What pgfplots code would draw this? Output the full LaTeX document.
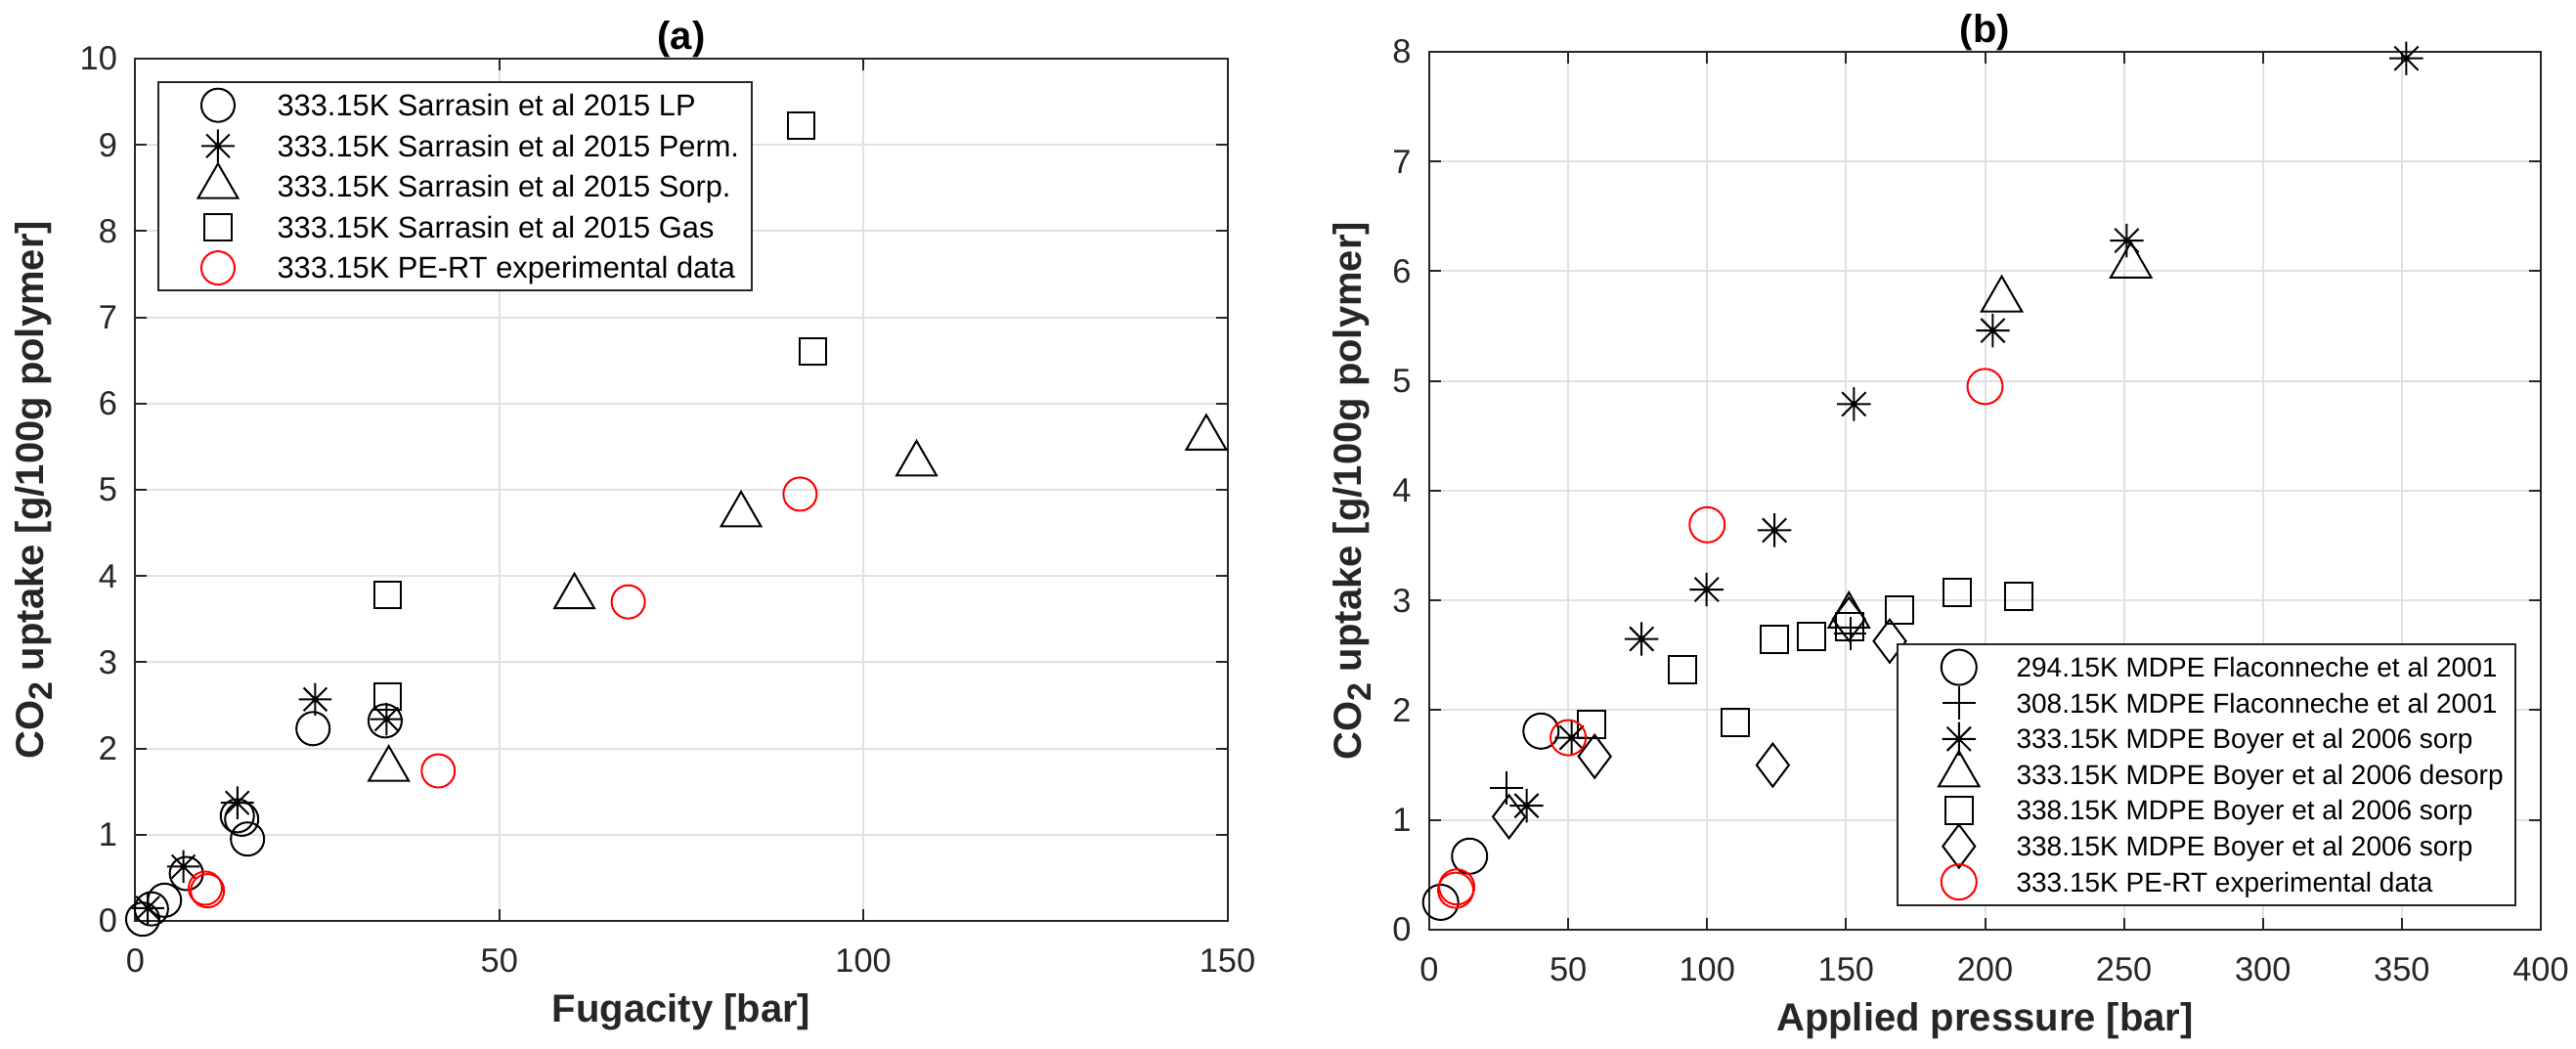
\documentclass[border=0pt]{standalone}
\usepackage{pgfplots}
\pgfplotsset{compat=1.18}
\usepackage{fontspec}
\setmainfont{Liberation Sans}
\definecolor{axc}{RGB}{38,38,38}
\definecolor{gridc}{RGB}{225,225,225}
\pgfdeclareplotmark{mstar}{%
  \pgfpathmoveto{\pgfqpoint{-\pgfplotmarksize}{0pt}}%
  \pgfpathlineto{\pgfqpoint{\pgfplotmarksize}{0pt}}%
  \pgfpathmoveto{\pgfqpoint{0pt}{-\pgfplotmarksize}}%
  \pgfpathlineto{\pgfqpoint{0pt}{\pgfplotmarksize}}%
  \pgfpathmoveto{\pgfqpoint{-.7071\pgfplotmarksize}{-.7071\pgfplotmarksize}}%
  \pgfpathlineto{\pgfqpoint{.7071\pgfplotmarksize}{.7071\pgfplotmarksize}}%
  \pgfpathmoveto{\pgfqpoint{-.7071\pgfplotmarksize}{.7071\pgfplotmarksize}}%
  \pgfpathlineto{\pgfqpoint{.7071\pgfplotmarksize}{-.7071\pgfplotmarksize}}%
  \pgfusepathqstroke
  \pgfpathcircle{\pgfpointorigin}{0.6pt}%
  \pgfusepathqfill
}
\newcommand{\COtwo}{CO\raisebox{-0.45ex}{\fontsize{8.5}{10}\selectfont 2}}
\pgfplotsset{
  common/.style={
    scale only axis, clip=false,
    axis line style={axc, line width=0.5pt},
    tick style={axc, line width=0.5pt},
    major tick length=3pt,
    tick align=inside,
    grid=major, major grid style={gridc, line width=0.5pt},
    tick label style={font=\fontsize{8.6}{10}\selectfont, text=axc},
    /pgf/number format/assume math mode=true,
    xticklabel style={yshift=-3.6pt},
    yticklabel style={xshift=-1.1pt},
    label style={font=\bfseries\fontsize{10}{12}\selectfont, text=axc},
    every axis title shift=0pt,
    title style={font=\bfseries\fontsize{10}{12}\selectfont, text=black, at={(axis description cs:0.5,1)}, anchor=center, yshift=5pt},
    xlabel style={at={(axis description cs:0.5,0)}, anchor=center, yshift=-23.4pt},
    legend cell align=left,
    every axis plot/.append style={line width=0.5pt},
  }
}
\begin{document}
\begin{tikzpicture}
\useasboundingbox (0,0) rectangle (658.75pt,268pt);
% ---------------- (a)
\begin{axis}[common,
  at={(34.625pt,32.5pt)}, anchor=south west,
  width=279.25pt, height=220.5pt,
  xmin=0, xmax=150, ymin=0, ymax=10,
  xtick={0,50,100,150}, ytick={0,1,...,10},
  title={(a)},
  xlabel={Fugacity [bar]},
  ylabel={\COtwo{} uptake [g/100g polymer]},
  ylabel style={at={(axis description cs:-0.093,0.5)}, anchor=center},
  legend style={at={(axis description cs:0.0205,0.9736)}, anchor=north west,
    draw=axc, line width=0.5pt, fill=white, inner xsep=3.3pt, inner ysep=1.95pt,
    row sep=2.6pt, font=\fontsize{7.7}{9}\selectfont, text=black,
    nodes={inner sep=0pt, text height=6.6pt, text depth=1.2pt}},
  legend image code/.code={%
    \begin{pgfinterruptboundingbox}\draw[#1] plot coordinates {(11.85pt,0pt)};\end{pgfinterruptboundingbox}%
    \path[draw=none] (0pt,-1pt) rectangle (27pt,1pt);},
]
\addplot[only marks, mark=o, mark size=4.25pt, black] coordinates {
 (1.0,0.02) (2.2,0.14) (4.0,0.24) (7.0,0.55) (14.0,1.22) (14.6,1.18) (15.4,0.95) (24.4,2.23) (34.3,2.32)};
\addlegendentry{333.15K Sarrasin et al 2015 LP}
\addplot[only marks, mark=mstar, mark size=4.2pt, black] coordinates {
 (1.7,0.15) (6.6,0.63) (14.0,1.37) (24.7,2.57) (34.5,2.34)};
\addlegendentry{333.15K Sarrasin et al 2015 Perm.}
\addplot[only marks, mark=triangle, mark size=5.9pt, black] coordinates {
 (34.8,1.76) (60.3,3.76) (83.2,4.71) (107.3,5.30) (147.1,5.60)};
\addlegendentry{333.15K Sarrasin et al 2015 Sorp.}
\addplot[only marks, mark=square, mark size=3.4pt, black] coordinates {
 (34.6,2.60) (34.6,3.78) (91.5,9.22) (93.1,6.60)};
\addlegendentry{333.15K Sarrasin et al 2015 Gas}
\addplot[only marks, mark=o, mark size=4.25pt, red] coordinates {
 (9.6,0.38) (9.9,0.35) (41.6,1.74) (67.7,3.70) (91.3,4.95)};
\addlegendentry{333.15K PE-RT experimental data}
\end{axis}
% ---------------- (b)
\begin{axis}[common,
  at={(365.5pt,30.25pt)}, anchor=south west,
  width=284.25pt, height=224.5pt,
  xmin=0, xmax=400, ymin=0, ymax=8,
  xtick={0,50,...,400}, ytick={0,1,...,8},
  title={(b)},
  xlabel={Applied pressure [bar]},
  ylabel={\COtwo{} uptake [g/100g polymer]},
  ylabel style={at={(axis description cs:-0.0695,0.5)}, anchor=center},
  legend style={at={(axis description cs:0.4204,0.3263)}, anchor=north west,
    draw=axc, line width=0.5pt, fill=white, inner xsep=3.1pt, inner ysep=2.35pt,
    row sep=2.05pt, font=\fontsize{7}{8.5}\selectfont, text=black,
    nodes={inner sep=0pt, text height=6.05pt, text depth=1.05pt}},
  legend image code/.code={%
    \begin{pgfinterruptboundingbox}\draw[#1] plot coordinates {(12.6pt,0pt)};\end{pgfinterruptboundingbox}%
    \path[draw=none] (0pt,-1pt) rectangle (27.3pt,1pt);},
]
\addplot[only marks, mark=o, mark size=4.5pt, black] coordinates {
 (4.1,0.25) (14.5,0.67) (40.2,1.81)};
\addlegendentry{294.15K MDPE Flaconneche et al 2001}
\addplot[only marks, mark=+, mark size=4.2pt, black] coordinates {
 (27.8,1.29) (151.5,2.70)};
\addlegendentry{308.15K MDPE Flaconneche et al 2001}
\addplot[only marks, mark=mstar, mark size=4.3pt, black] coordinates {
 (35.0,1.13) (51.2,1.75) (76.4,2.65) (99.8,3.10) (124.2,3.64) (152.8,4.79) (202.8,5.46) (251.0,6.28) (351.6,7.94)};
\addlegendentry{333.15K MDPE Boyer et al 2006 sorp}
\addplot[only marks, mark=triangle, mark size=6pt, black] coordinates {
 (151.0,2.86) (206.0,5.74) (252.5,6.05)};
\addlegendentry{333.15K MDPE Boyer et al 2006 desorp}
\addplot[only marks, mark=square, mark size=3.5pt, black] coordinates {
 (58.3,1.87) (91.2,2.37) (110.1,1.89) (124.3,2.65) (137.7,2.67) (151.3,2.76) (169.1,2.91) (189.8,3.07) (212.3,3.04)};
\addlegendentry{338.15K MDPE Boyer et al 2006 sorp}
\addplot[only marks, mark=diamond, mark size=5.5pt, black] coordinates {
 (28.7,1.03) (59.5,1.58) (123.6,1.50) (151.0,2.83) (165.7,2.63)};
\addlegendentry{338.15K MDPE Boyer et al 2006 sorp}
\addplot[only marks, mark=o, mark size=4.5pt, red] coordinates {
 (9.5,0.36) (9.9,0.39) (50.0,1.75) (100.0,3.69) (200.0,4.95)};
\addlegendentry{333.15K PE-RT experimental data}
\end{axis}
\end{tikzpicture}
\end{document}
